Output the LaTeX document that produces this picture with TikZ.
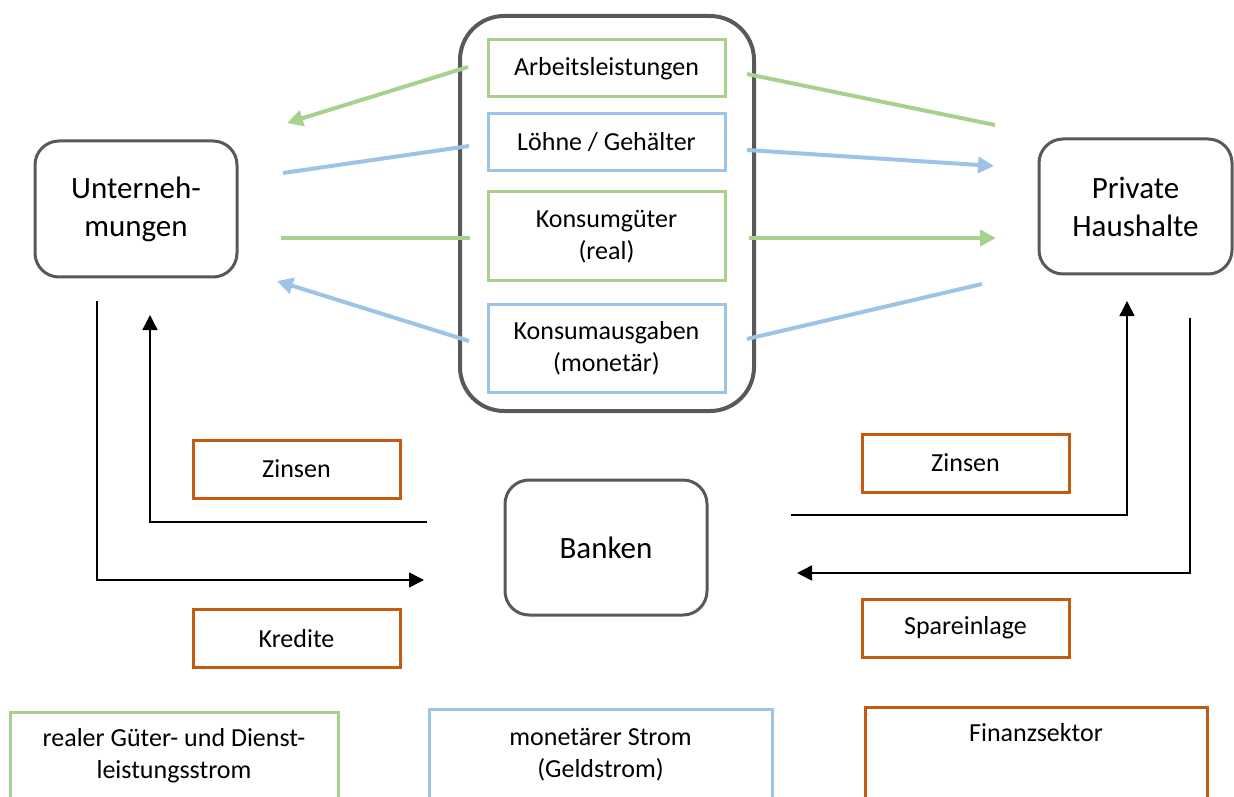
\documentclass[tikz,border=0pt]{standalone}
\usepackage{fontspec}
\setmainfont{Carlito}
\usetikzlibrary{arrows.meta}
\definecolor{realgreen}{HTML}{A9D18E}
\definecolor{moneyblue}{HTML}{9DC3E6}
\definecolor{finorange}{HTML}{C55A11}
\definecolor{framegray}{HTML}{595959}

\begin{document}
\begin{tikzpicture}[x=0.5pt,y=-0.5pt,
  sector/.style={draw=framegray, line width=1.5pt, rounded corners=12pt, fill=white,
    align=center, inner sep=0pt, font=\fontsize{15.5}{19}\selectfont},
  flowbox/.style={line width=1.5pt, align=center, inner sep=0pt, minimum width=118.5pt,
    font=\fontsize{13}{16}\selectfont},
  realbox/.style={flowbox, draw=realgreen},
  moneybox/.style={flowbox, draw=moneyblue},
  finbox/.style={line width=1.5pt, draw=finorange, align=center, inner sep=0pt,
    minimum width=103.5pt, minimum height=29pt, font=\fontsize{13}{16}\selectfont},
  legendbox/.style={line width=1.5pt, align=center, inner sep=0pt,
    font=\fontsize{13}{16}\selectfont},
  realflow/.style={draw=realgreen, line width=2pt},
  moneyflow/.style={draw=moneyblue, line width=2pt},
  flowtip/.style={-{Triangle[length=8pt,width=8pt]}},
  finflow/.style={draw=black, line width=0.75pt, -{Triangle[length=7.5pt,width=7.5pt]}},
]
\useasboundingbox (0,0) rectangle (1234,796);
\clip (0,0) rectangle (1234,796);

% market frame with the four flows
\node[draw=framegray, line width=2pt, rounded corners=22pt, minimum width=147pt,
  minimum height=197.5pt, inner sep=0pt] (market) at (607,213.5) {};
\node[realbox, minimum height=28.5pt] (arb) at (606.5,68.5) {Arbeitsleistungen};
\node[moneybox, minimum height=28.5pt] (lohn) at (606.5,142.5) {Löhne / Gehälter};
\node[realbox, minimum height=44.5pt] (konsg) at (606.5,236.5) {Konsumgüter\\(real)};
\node[moneybox, minimum height=44pt] (konsa) at (606.5,348) {Konsumausgaben\\(monetär)};

% sectors
\node[sector, minimum width=101pt, minimum height=68pt] (unt) at (136,209) {Unterneh-\\mungen};
\node[sector, minimum width=96.5pt, minimum height=67.5pt] (hh) at (1135.5,206.5) {Private\\Haushalte};
\node[sector, minimum width=101pt, minimum height=67.5pt] (bank) at (606,547.5) {Banken};

% financial flows
\node[finbox] (zinsL) at (296.5,469) {Zinsen};
\node[finbox] (kredit) at (296.5,638.5) {Kredite};
\node[finbox] (zinsR) at (965.5,463) {Zinsen};
\node[finbox] (spar) at (965.5,628) {Spareinlage};

% legend
\node[legendbox, draw=realgreen, minimum width=164pt, minimum height=44pt] (legG) at (174,756)
  {realer Güter- und Dienst-\\leistungsstrom};
\node[legendbox, draw=moneyblue, minimum width=171.5pt, minimum height=45.5pt] (legB) at (600.5,754.5)
  {monetärer Strom\\(Geldstrom)};
\node[legendbox, draw=finorange, minimum width=171pt, minimum height=46.5pt] (legO) at (1036,753.5)
  {Finanzsektor\\ \strut};

% end points of the flow lines
\coordinate (arbR1) at (995,125);  \coordinate (arbR2) at (747,74);
\coordinate (arbL1) at (468,67);   \coordinate (arbL2) at (287,123);
\coordinate (lohnL1) at (283,173); \coordinate (lohnL2) at (469,146);
\coordinate (lohnR1) at (747,150); \coordinate (lohnR2) at (994,166);
\coordinate (konsgL1) at (281,238); \coordinate (konsgL2) at (470,238);
\coordinate (konsgR1) at (749,238); \coordinate (konsgR2) at (996,238);
\coordinate (konsaR1) at (982,284); \coordinate (konsaR2) at (747,339);
\coordinate (konsaL1) at (469,341); \coordinate (konsaL2) at (277,281);

\draw[realflow] (arbR1) -- (arbR2);
\draw[realflow, flowtip] (arbL1) -- (arbL2);
\draw[moneyflow] (lohnL1) -- (lohnL2);
\draw[moneyflow, flowtip] (lohnR1) -- (lohnR2);
\draw[realflow] (konsgL1) -- (konsgL2);
\draw[realflow, flowtip] (konsgR1) -- (konsgR2);
\draw[moneyflow] (konsaR1) -- (konsaR2);
\draw[moneyflow, flowtip] (konsaL1) -- (konsaL2);

% credit and interest loops
\coordinate (kredA) at (97,301);   \coordinate (kredB) at (424,580);
\coordinate (zlA) at (427,522);    \coordinate (zlB) at (150,315);
\coordinate (zrA) at (791,515);    \coordinate (zrB) at (1127,301);
\coordinate (spA) at (1190,318);   \coordinate (spB) at (797,573);

\draw[finflow] (kredA) |- (kredB);
\draw[finflow] (zlA) -| (zlB);
\draw[finflow] (zrA) -| (zrB);
\draw[finflow] (spA) |- (spB);
\end{tikzpicture}
\end{document}
